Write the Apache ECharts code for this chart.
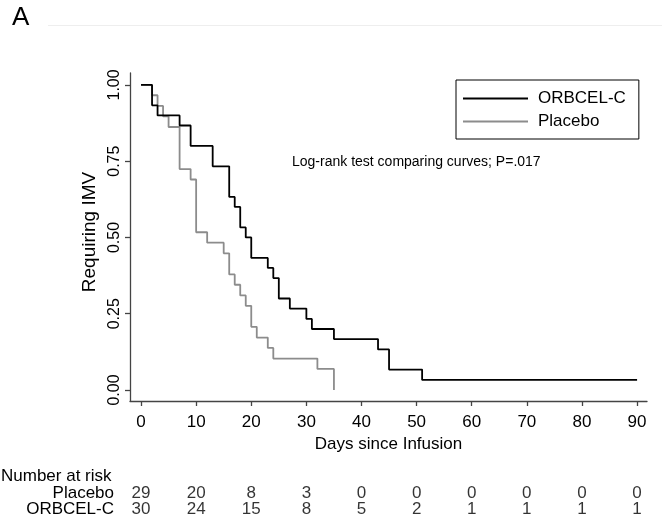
<!DOCTYPE html>
<html>
<head>
<meta charset="utf-8">
<script src="https://cdn.jsdelivr.net/npm/echarts@6/dist/echarts.min.js"></script>
<style>
  html, body { margin: 0; padding: 0; background: #fff; }
  #chart { width: 662px; height: 527px; }
</style>
</head>
<body>
<div id="chart"></div>
<script>
// Kaplan-Meier estimates: event days and proportion still requiring IMV
const orbcelDays = [0, 2, 3, 7, 9, 13, 16, 17, 18, 19, 20, 23, 24, 25, 27, 30, 31, 35, 43, 45, 51, 90];
const orbcelSurv = [1, 0.933, 0.9, 0.867, 0.8, 0.733, 0.633, 0.6, 0.533, 0.5, 0.433, 0.4, 0.367, 0.3, 0.267, 0.233, 0.2, 0.167, 0.133, 0.067, 0.033, 0.033];
const placeboDays = [0, 2, 3, 4, 5, 7, 9, 10, 12, 15, 16, 17, 18, 19, 20, 21, 23, 24, 32, 35];
const placeboSurv = [1, 0.966, 0.931, 0.897, 0.862, 0.724, 0.69, 0.517, 0.483, 0.448, 0.379, 0.345, 0.31, 0.276, 0.207, 0.172, 0.138, 0.103, 0.069, 0];

// Axis ticks
const xTicks = [0, 10, 20, 30, 40, 50, 60, 70, 80, 90];
const yTicks = [0, 0.25, 0.5, 0.75, 1];

// Number at risk table
const riskDays = [0, 10, 20, 30, 40, 50, 60, 70, 80, 90];
const riskRows = ['Placebo', 'ORBCEL-C'];
const riskPlacebo = [29, 20, 8, 3, 0, 0, 0, 0, 0, 0];
const riskOrbcel = [30, 24, 15, 8, 5, 2, 1, 1, 1, 1];

const FONT = '"Liberation Sans", Arial, Helvetica, sans-serif';
const AXIS_COLOR = '#444';

const zip = (xs, ys) => xs.map((x, i) => [x, ys[i]]);
const riskData = [];
riskDays.forEach((d, i) => {
  riskData.push([d, 0, riskPlacebo[i]]);
  riskData.push([d, 1, riskOrbcel[i]]);
});

const chart = echarts.init(document.getElementById('chart'), null, { renderer: 'canvas' });

chart.setOption({
  animation: false,
  backgroundColor: '#fff',
  textStyle: { fontFamily: FONT, color: '#000' },
  grid: [
    { left: 130, right: 15, top: 73, bottom: 126, outerBoundsMode: 'none' },
    { left: 130, right: 15, top: 485, height: 32, outerBoundsMode: 'none' }
  ],
  xAxis: [
    {
      type: 'value', gridIndex: 0, min: -2, max: 91.8,
      axisLine: { show: true, onZero: false, lineStyle: { color: AXIS_COLOR, width: 1.3 } },
      axisTick: { show: true, customValues: xTicks, length: 5, lineStyle: { color: AXIS_COLOR, width: 1.3 } },
      axisLabel: { customValues: xTicks, fontSize: 17, color: '#000', margin: 13, fontFamily: FONT },
      splitLine: { show: false },
      name: 'Days since Infusion', nameLocation: 'middle', nameGap: 29,
      nameTextStyle: { fontSize: 17, color: '#000', fontFamily: FONT }
    },
    { type: 'value', gridIndex: 1, min: -2, max: 91.8, show: false }
  ],
  yAxis: [
    {
      type: 'value', gridIndex: 0, min: -0.036, max: 1.039,
      axisLine: { show: true, onZero: false, lineStyle: { color: AXIS_COLOR, width: 1.3 } },
      axisTick: { show: true, customValues: yTicks, length: 5, lineStyle: { color: AXIS_COLOR, width: 1.3 } },
      axisLabel: {
        customValues: yTicks, rotate: 90, fontSize: 16, color: '#000', margin: 7, fontFamily: FONT,
        formatter: v => Number(v).toFixed(2)
      },
      splitLine: { show: false },
      name: 'Requiring IMV', nameLocation: 'middle', nameGap: 26,
      nameTextStyle: { fontSize: 19, color: '#000', fontFamily: FONT, padding: [0, 0, 0, 10] }
    },
    {
      type: 'category', gridIndex: 1, inverse: true, data: riskRows,
      axisLine: { show: false }, axisTick: { show: false },
      axisLabel: { interval: 0, fontSize: 17, color: '#000', margin: 16, fontFamily: FONT }
    }
  ],
  legend: {
    data: [
      { name: 'ORBCEL-C', icon: 'rect' },
      { name: 'Placebo', icon: 'rect' }
    ],
    orient: 'vertical',
    left: 456, top: 80,
    padding: [10, 13, 9, 7],
    itemGap: 6,
    itemWidth: 65,
    itemHeight: 1.8,
    borderColor: '#000',
    borderWidth: 1,
    textStyle: { fontSize: 17, color: '#000', fontFamily: FONT, padding: [0, 0, 0, 5] }
  },
  series: [
    {
      name: 'Placebo', type: 'line', step: 'end',
      xAxisIndex: 0, yAxisIndex: 0,
      data: zip(placeboDays, placeboSurv),
      symbol: 'none',
      lineStyle: { color: '#8c8c8c', width: 1.8 },
      itemStyle: { color: '#8c8c8c' }
    },
    {
      name: 'ORBCEL-C', type: 'line', step: 'end',
      xAxisIndex: 0, yAxisIndex: 0,
      data: zip(orbcelDays, orbcelSurv),
      symbol: 'none',
      lineStyle: { color: '#000', width: 1.8 },
      itemStyle: { color: '#000' }
    },
    {
      name: 'risk', type: 'scatter',
      xAxisIndex: 1, yAxisIndex: 1,
      data: riskData,
      symbol: 'circle', symbolSize: 1,
      itemStyle: { color: 'rgba(0,0,0,0)' },
      label: {
        show: true, position: 'inside', fontSize: 17, color: '#000', fontFamily: FONT,
        formatter: p => String(p.value[2])
      },
      silent: true
    }
  ],
  graphic: [
    { type: 'text', x: 12, y: 17.5, style: { text: 'A', font: '26px ' + FONT, fill: '#000', verticalAlign: 'middle' } },
    { type: 'line', shape: { x1: 48, y1: 25.5, x2: 662, y2: 25.5 }, style: { stroke: '#eeeeee', lineWidth: 1 } },
    { type: 'text', x: 292, y: 162, style: { text: 'Log-rank test comparing curves; P=.017', font: '14px ' + FONT, fill: '#000', verticalAlign: 'middle' } },
    { type: 'text', x: 1, y: 476, style: { text: 'Number at risk', font: '17px ' + FONT, fill: '#000', verticalAlign: 'middle' } }
  ]
});
</script>
</body>
</html>
